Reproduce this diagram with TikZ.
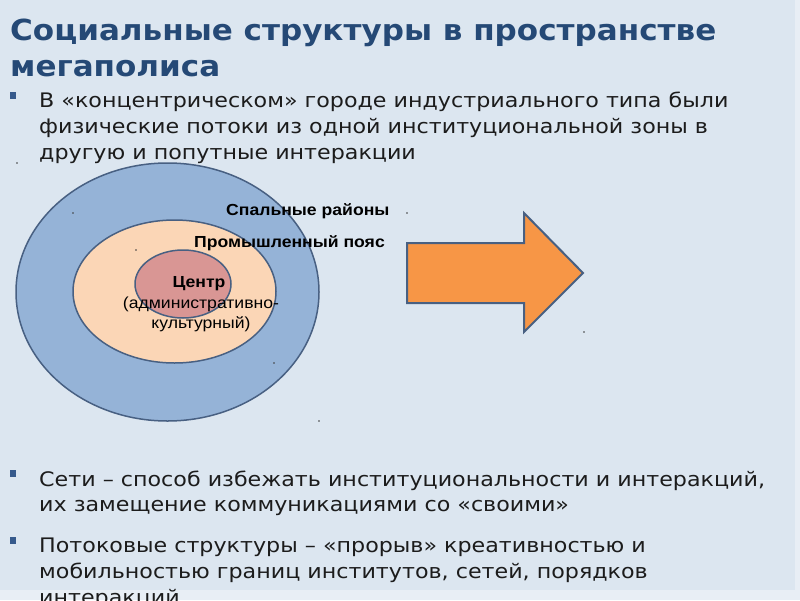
\documentclass[tikz,border=0pt]{standalone}
\usepackage{fontspec}
\setmainfont{DejaVu Sans}
\newfontfamily\titlefont{DejaVu Sans}[FakeStretch=1.07]
\newfontfamily\bodyfont{DejaVu Sans}[FakeStretch=1.11]
\newfontfamily\labelfont{Liberation Sans}[FakeStretch=1.1]
\definecolor{slidebg}{RGB}{220,230,240}
\definecolor{edgebg}{RGB}{232,238,245}
\definecolor{titleblue}{RGB}{37,73,118}
\definecolor{bulletblue}{RGB}{54,90,140}
\definecolor{bodytext}{RGB}{28,28,28}
\definecolor{outerblue}{RGB}{149,179,215}
\definecolor{beltpeach}{RGB}{251,214,182}
\definecolor{centrerose}{RGB}{217,150,148}
\definecolor{zoneline}{RGB}{72,96,130}
\definecolor{arroworange}{RGB}{247,150,70}
\definecolor{dotgray}{RGB}{60,60,60}
\begin{document}
\begin{tikzpicture}[x=1pt,y=-1pt,
    zone/.style={draw=zoneline,line width=1.5pt},
    heading/.style={anchor=base west,inner sep=0pt,text=titleblue,font=\titlefont\bfseries\fontsize{29}{34}\selectfont},
    body/.style={anchor=base west,inner sep=0pt,text=bodytext,font=\bodyfont\fontsize{20}{24}\selectfont},
    zonelabel/.style={anchor=base west,inner sep=0pt,font=\labelfont\bfseries\fontsize{16}{19}\selectfont},
    centrelabel/.style={anchor=base,inner sep=0pt,font=\labelfont\fontsize{16}{19}\selectfont}]
        \clip (0,0) rectangle (800,600);
        \fill[edgebg] (0,0) rectangle (800,600); \fill[slidebg] (0,0) rectangle (795,590);
        \node[heading] (title1) at (10,40) {Социальные структуры в пространстве};
        \node[heading] (title2) at (10,76) {мегаполиса};
        \foreach \y in {92,470,537} \fill[bulletblue] (10,\y) rectangle (16,\y+7);
        \foreach \y/\t [count=\i] in {107/{В «концентрическом» городе индустриального типа были},
            133/{физические потоки из одной институциональной зоны в},
            159/{другую и попутные интеракции},
            486/{Сети – способ избежать институциональности и интеракций,},
            511/{их замещение коммуникациями со «своими»},
            552/{Потоковые структуры – «прорыв» креативностью и},
            578/{мобильностью границ институтов, сетей, порядков},
            604/{интеракций}}
            \node[body] (line\i) at (39,\y) {\t};
        \draw[zone,fill=outerblue] (167.5,292) ellipse [x radius=151.5pt, y radius=129pt];
        \draw[zone,fill=beltpeach] (174.5,291.5) ellipse [x radius=101.5pt, y radius=71.5pt];
        \draw[zone,fill=centrerose] (183,284) ellipse [x radius=48pt, y radius=34pt];
        \node[zonelabel] (sleep) at (226,215) {Спальные районы};
        \node[zonelabel] (belt) at (194,247) {Промышленный пояс};
        \node[centrelabel,font=\labelfont\bfseries\fontsize{16}{19}\selectfont] (centre) at (199,287) {Центр};
        \node[centrelabel] (adm) at (201,308) {(административно-};
        \node[centrelabel] (cult) at (201,328) {культурный)};
        \draw[draw=zoneline,line width=2pt,fill=arroworange,line join=miter] (407,243) -- (524,243) -- (524,213) -- (583,273) -- (524,332) -- (524,303) -- (407,303) -- cycle;
        \foreach \p in {(17,163),(73,213),(136,250),(274,363),(319,421),(407,213),(584,332)} \fill[dotgray] \p circle (0.8pt);
    \end{tikzpicture}
\end{document}
